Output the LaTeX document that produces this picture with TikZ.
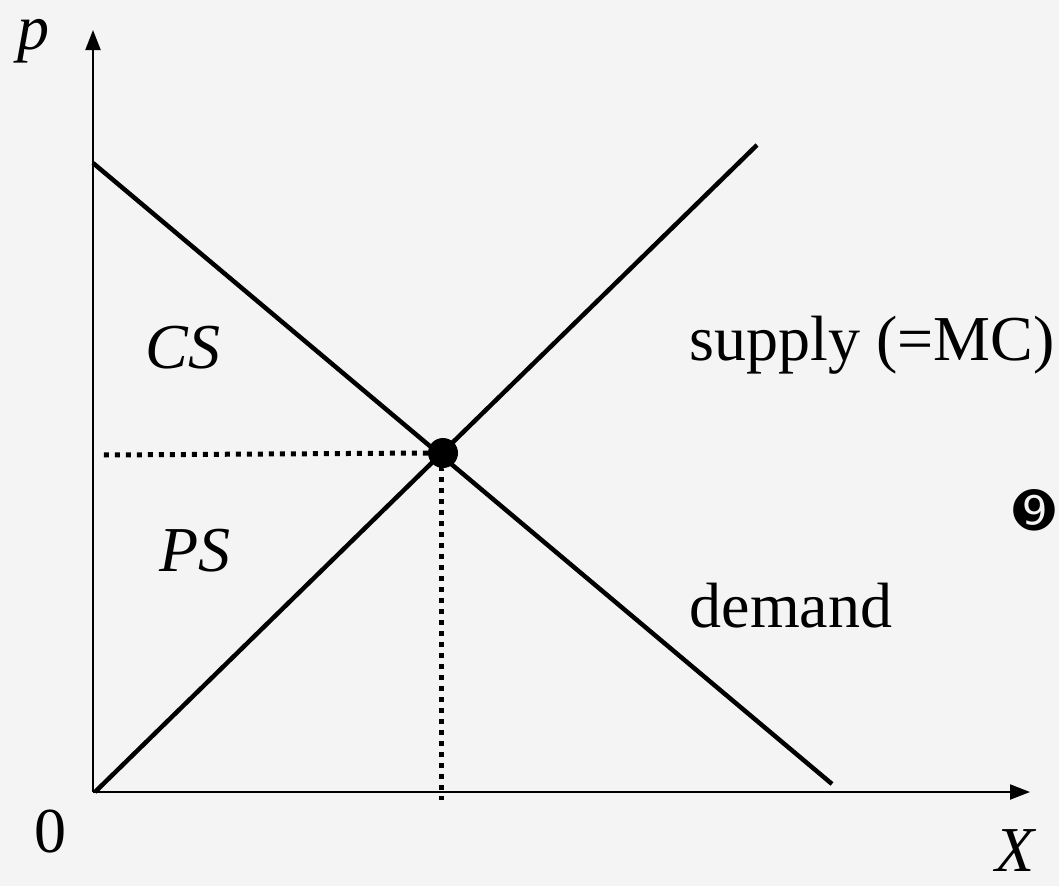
\documentclass[tikz,border=0pt]{standalone}
\usepackage{fontspec}
\setmainfont{Liberation Serif}
\newfontfamily\dingfont{DejaVu Sans}
\usetikzlibrary{arrows.meta,calc}
\definecolor{paper}{HTML}{F4F4F4}
\tikzset{
    axis/.style={line width=2pt, -{Triangle[length=20pt,width=15pt]}},
    curve/.style={line width=4.5pt},
    guide/.style={line width=5pt, dash pattern=on 5pt off 6pt},
    lbl/.style={font=\fontsize{64}{72}\selectfont, inner sep=0pt},
    ilbl/.style={lbl, font=\fontsize{64}{72}\selectfont\itshape},
    eqdot/.style={circle, fill=black, minimum size=30pt, inner sep=0pt}
}

\begin{document}
\begin{tikzpicture}[x=1pt, y=-1pt]

% Canvas
\fill[paper] (0,0) rectangle (1059,886);
\useasboundingbox (0,0) rectangle (1059,886);

% Axes
\coordinate (O) at (93,792);
\coordinate (ptop) at (93,30);
\coordinate (xend) at (1030,792);
\draw[axis] (O) -- (ptop);
\draw[axis] (O) -- (xend);

% Curves
\coordinate (dstart) at (93,163);
\coordinate (dend) at (832,784);
\coordinate (sstart) at (95,792);
\coordinate (send) at (757,145);
\draw[curve] (dstart) -- (dend);
\draw[curve] (sstart) -- (send);

% Equilibrium
\node[eqdot] (eq) at (443,453) {};
\coordinate (peq) at (103,455);
\coordinate (xeq) at (441,800);
\draw[guide] (eq.west) -- (peq);
\draw[guide] (eq.south) -| (xeq);

% Labels
\node[ilbl] (plab) at (33,41) {p};
\node[lbl] (zero) at (50,832) {0};
\node[ilbl] (xlab) at (1015,851) {X};
\node[ilbl] (cs) at (183,348) {CS};
\node[ilbl] (ps) at (195,551) {PS};
\node[lbl] (supply) at (872,345) {supply (=MC)};
\node[lbl] (demand) at (791,606) {demand};
\node[lbl, font=\fontsize{50}{54}\dingfont] (nine) at (1034,510) {➒};

\end{tikzpicture}
\end{document}
